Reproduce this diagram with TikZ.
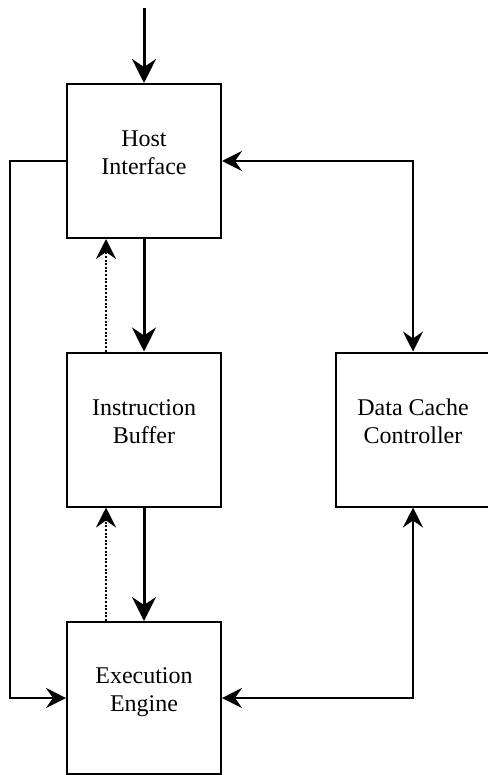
\documentclass[tikz,border=0pt]{standalone}
\usepackage{fontspec}
\setmainfont{Liberation Serif}
\usetikzlibrary{arrows.meta}

\begin{document}
\begin{tikzpicture}[x=0.5pt, y=-0.5pt,
    blk/.style={draw, line width=1pt, minimum width=77pt, minimum height=77pt,
        align=center, font=\fontsize{12}{14}\selectfont, text depth=8pt, inner sep=0pt},
    thk/.style={line width=1.5pt, -{Stealth[length=12pt, width=12pt, inset=4pt]}},
    conn/.style={line width=1pt, -{Stealth[length=10pt, width=10pt, inset=3.5pt]}},
    both/.style={line width=1pt, {Stealth[length=10pt, width=10pt, inset=3.5pt]}-{Stealth[length=10pt, width=10pt, inset=3.5pt]}},
    fb/.style={line width=1pt, dash pattern=on 1pt off 0.8pt, -{Stealth[length=10pt, width=10pt, inset=3.5pt]}}
]
    \useasboundingbox (0,0) rectangle (487,775);

    % Blocks
    \node[blk] (host) at (144,161) {Host\\Interface};
    \node[blk] (buf) at (144,429.5) {Instruction\\Buffer};
    \node[blk, minimum height=76pt] (eng) at (144,698) {Execution\\Engine};
    \node[blk] (dcc) at (413,429.5) {Data Cache\\Controller};

    % Main path
    \coordinate (in) at (144,8);
    \draw[thk] (in) -- (host.north);
    \draw[thk] (host.south) -- (buf.north);
    \draw[thk] (buf.south) -- (eng.north);

    % Feedback (dotted)
    \draw[fb] ([xshift=-19pt]buf.north) -- ([xshift=-19pt]host.south);
    \draw[fb] ([xshift=-19pt]eng.north) -- ([xshift=-19pt]buf.south);

    % Bypass on the left
    \coordinate (lbend) at (10,161);
    \draw[conn] (host.west) -- (lbend) |- (eng.west);

    % Data cache links
    \draw[both] (host.east) -| (dcc.north);
    \draw[both] (eng.east) -| (dcc.south);

\end{tikzpicture}
\end{document}
